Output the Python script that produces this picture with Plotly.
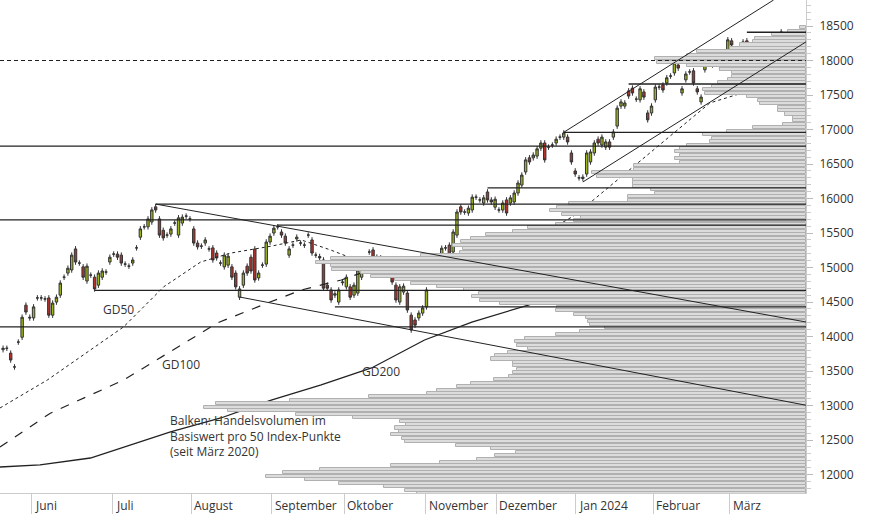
import plotly.graph_objects as go

# candles: open / close per trading day (index 0 = mid May 2023)
opens = [13810, 13830, 13760, 13560, 13920, 13990, 14455, 14280, 14270, 14560,
         14560, 14545, 14560, 14310, 14500, 14600, 14860, 14920, 14965, 15270,
         15065, 15010, 14805, 14890, 14860, 14745, 14860, 14935, 15080, 15195,
         15195, 15180, 15050, 15020, 15065, 15285, 15440, 15590, 15590, 15660,
         15880, 15705, 15540, 15470, 15485, 15645, 15470, 15645, 15745, 15705,
         15560, 15355, 15310, 15355, 15270, 15285, 15210, 15065, 15010, 15035,
         15010, 14920, 14570, 14745, 15020, 15150, 15270, 14850, 15035, 15050,
         15370, 15500, 15590, 15515, 15455, 15180, 15325, 15415, 15355, 15325,
         15470, 15400, 15180, 15160, 15110, 14745, 14675, 14600, 14500, 14780,
         14720, 14720, 14600, 14630, 14860, 15110, 15225, 15255, 15150, 15010,
         15050, 15010, 14965, 14745, 14500, 14645, 14630, 14310, 14240, 14270,
         14340, 14430, 14850, 14965, 15110, 15195, 15285, 15325, 15225, 15470,
         15880, 15805, 15790, 15834, 16020, 15980, 15935, 16095, 15980, 15875,
         15834, 15834, 15980, 15935, 15950, 16080, 16195, 16385, 16590, 16590,
         16615, 16730, 16805, 16745, 16775, 16805, 16890, 16890, 16890, 16660,
         16400, 16300, 16310, 16355, 16530, 16660, 16860, 16775, 16745, 16820,
         16890, 17050, 17340, 17340, 17560, 17600, 17440, 17430, 17545, 17240,
         17240, 17430, 17615, 17645, 17675, 17775, 17820, 17935, 17530, 17720,
         17835, 17850, 17590, 17400, 17865, 18050, 17965, 17965, 17890, 17980,
         18080, 18285, 18080, 18010, 18152, 18285, 17980, 18050, 18140, 18110,
         17905, 18010, 17890, 18080, 18415, 18285]
closes = [13830, 13830, 13660, 13560, 13920, 14280, 14355, 14270, 14430, 14560,
          14560, 14545, 14310, 14485, 14570, 14775, 14860, 14990, 15180, 15080,
          15065, 14860, 15020, 14890, 14690, 14920, 14950, 14935, 15150, 15195,
          15150, 15065, 15050, 15020, 15110, 15285, 15560, 15590, 15705, 15835,
          15835, 15470, 15430, 15470, 15560, 15645, 15720, 15730, 15745, 15705,
          15355, 15300, 15310, 15400, 15270, 15110, 15140, 15065, 15180, 15165,
          14860, 14720, 14690, 14920, 14920, 14950, 14820, 14920, 15035, 15370,
          15455, 15570, 15590, 15470, 15355, 15270, 15325, 15440, 15355, 15325,
          15470, 15210, 15180, 15140, 14700, 14700, 14530, 14620, 14675, 14790,
          14860, 14570, 14745, 14965, 15035, 15110, 15225, 15065, 15035, 15140,
          15040, 14920, 14790, 14530, 14720, 14730, 14385, 14095, 14165, 14340,
          14415, 14675, 14920, 15080, 15110, 15280, 15285, 15180, 15515, 15805,
          15805, 15805, 15860, 16020, 16020, 15980, 16010, 15980, 15950, 15990,
          15834, 15935, 15790, 16010, 16080, 16225, 16340, 16560, 16530, 16630,
          16720, 16805, 16560, 16745, 16775, 16860, 16890, 16950, 16820, 16530,
          16355, 16300, 16290, 16660, 16675, 16805, 16805, 16890, 16820, 16745,
          16965, 17310, 17400, 17385, 17485, 17530, 17440, 17590, 17470, 17140,
          17340, 17615, 17615, 17573, 17750, 17775, 17965, 17890, 17590, 17805,
          17835, 17675, 17545, 17470, 18010, 17965, 17935, 17965, 17890, 18040,
          18300, 18225, 17905, 18080, 18270, 18020, 17980, 18195, 18065, 18020,
          17820, 18010, 18020, 18225, 18325, 18325]
wick = 40

# moving averages (index, value)
gd50_x = [-0.8, 11.6, 31.6, 42.1, 51.8, 59.7, 70.3, 78.2, 86.1, 94, 104.5, 117.6, 128.2, 138.7, 150, 164.2, 185.3, 203.2, 205.3]
gd50_y = [12965, 13370, 14140, 14720, 15080, 15210, 15310, 15400, 15250, 15080, 14965, 14965, 15080, 15400, 15760, 16415, 17385, 17690, 17720]
gd100_x = [-0.8, 12.4, 31.6, 43.2, 56.3, 69.5, 78.2, 88.7, 100, 113.2, 130.8, 143.9, 157.1, 167.6, 185.3, 205.3]
gd100_y = [12400, 12890, 13370, 13760, 14200, 14490, 14675, 14820, 15040, 15080, 15210, 15330, 15620, 15910, 16415, 16850]
gd200_x = [-0.8, 9.7, 22.9, 33.4, 43.9, 57.1, 70.3, 83.4, 96.6, 110.5, 122.9, 137.9, 157.1, 172.9, 192.1, 205.3]
gd200_y = [12110, 12140, 12240, 12430, 12620, 12820, 13080, 13300, 13545, 13950, 14210, 14460, 14890, 15255, 15690, 15950]

# trend lines: (x0, y0, x1, y1)
trends = [(147, 16960, 202, 18877), (152, 16240, 210.5, 18270),
          (40, 15920, 210.5, 14211), (62, 14573, 210.5, 13005)]

# horizontal support / resistance lines
hline_levels = [18410, 17660, 16960, 16760, 16155, 15920, 15690, 15615, 14670, 14430, 14140]
hline_starts = [195, 164, 147, -0.8, 127, 40, -0.8, 72, 24, 87, -0.8]
dotted_level = 18000

# volume profile, one bar per 50 index points from 11700 upward
vol_start = 11700
volumes = [389, 401, 422, 467, 501, 540, 523, 486, 415, 366, 329, 311, 290, 315, 350, 401,
           404, 415, 407, 411, 400, 406, 453, 510, 578, 602, 590, 516, 437, 379, 369, 349,
           335, 312, 297, 293, 289, 293, 293, 315, 311, 298, 278, 289, 291, 281, 250, 226,
           201, 216, 218, 220, 232, 250, 249, 306, 326, 334, 327, 342, 369, 395, 411, 435,
           445, 474, 475, 490, 475, 385, 346, 343, 353, 345, 335, 320, 293, 278, 250, 232,
           225, 244, 256, 249, 237, 178, 178, 151, 155, 173, 173, 173, 209, 214, 172, 172,
           126, 131, 126, 131, 126, 119, 96, 94, 103, 79, 53, 23, 13, 13, 21, 28,
           28, 46, 48, 59, 101, 103, 94, 88, 78, 74, 74, 86, 119, 149, 151, 119,
           109, 76, 66, 53, 51, 34, 18, 6]

months = ["Juni", "Juli", "August", "September", "Oktober", "November",
          "Dezember", "Jan 2024", "Februar", "März"]
month_pos = [7.5, 28.7, 49.3, 70.5, 89.4, 110.8, 129.3, 150.2, 170.5, 190.5]

X_END = 210.5
idx = list(range(len(opens)))
highs = [max(o, c) + wick for o, c in zip(opens, closes)]
lows = [min(o, c) - wick for o, c in zip(opens, closes)]
levels = [vol_start + 25 + 50 * i for i in range(len(volumes))]

fig = go.Figure()
fig.add_trace(go.Bar(y=levels, x=volumes, orientation="h", width=44, xaxis="x2",
                     marker=dict(color="#dcdcdc", line=dict(color="#b0b0b0", width=1)),
                     showlegend=False, hoverinfo="skip"))

for x0, lev in zip(hline_starts, hline_levels):
    fig.add_shape(type="line", x0=x0, x1=X_END, y0=lev, y1=lev, line=dict(color="#222", width=1.3))
fig.add_shape(type="line", x0=-0.8, x1=X_END, y0=dotted_level, y1=dotted_level,
              line=dict(color="#222", width=1.2, dash="4px,3px"))
for x0, y0, x1, y1 in trends:
    fig.add_shape(type="line", x0=x0, y0=y0, x1=x1, y1=y1, line=dict(color="#222", width=1))

fig.add_trace(go.Scatter(x=gd50_x, y=gd50_y, mode="lines", line=dict(color="#222", width=1, dash="dot"),
                         showlegend=False))
fig.add_trace(go.Scatter(x=gd100_x, y=gd100_y, mode="lines", line=dict(color="#222", width=1.2, dash="dash"),
                         showlegend=False))
fig.add_trace(go.Scatter(x=gd200_x, y=gd200_y, mode="lines", line=dict(color="#222", width=1.3),
                         showlegend=False))

fig.add_trace(go.Candlestick(x=idx, open=opens, high=highs, low=lows, close=closes, whiskerwidth=0,
                             increasing=dict(fillcolor="#9db31a", line=dict(color="#333", width=1)),
                             decreasing=dict(fillcolor="#b5322a", line=dict(color="#333", width=1)),
                             showlegend=False))

for txt, x, y in [("GD50", 30.3, 14385), ("GD100", 46.6, 13590), ("GD200", 99.2, 13490)]:
    fig.add_annotation(x=x, y=y, text=txt, showarrow=False, font=dict(size=12, color="#333"))
fig.add_annotation(x=43.2, y=12930, xanchor="left", yanchor="top", align="left", showarrow=False,
                   text="Balken: Handelsvolumen im<br>Basiswert pro 50 Index-Punkte<br>(seit März 2020)",
                   font=dict(size=12, color="#333"))
for m, p in zip(months, month_pos):
    fig.add_annotation(x=p, y=0, yref="paper", yanchor="top", xanchor="left", xshift=1, yshift=-2,
                       text=m, showarrow=False, font=dict(size=12, color="#333"))

fig.update_layout(
    width=874, height=515, margin=dict(l=0, r=68, t=0, b=22, autoexpand=False),
    plot_bgcolor="white", paper_bgcolor="white", bargap=0, boxgap=0.1,
    font=dict(family="Open Sans, DejaVu Sans, sans-serif", size=12, color="#333"),
    xaxis=dict(range=[-0.8, X_END], tickvals=month_pos, ticktext=[""] * len(month_pos),
               ticks="outside", ticklen=20, tickcolor="#ccc", showline=True, linecolor="#ccc",
               showgrid=False, zeroline=False, rangeslider=dict(visible=False)),
    xaxis2=dict(overlaying="x", range=[806, 0], visible=False),
    yaxis=dict(side="right", range=[11733, 18877], tickvals=list(range(12000, 18501, 500)),
               tickformat="d", ticks="outside", ticklen=6, tickcolor="#bbb", showline=True,
               linecolor="#ccc", showgrid=False, zeroline=False, ticklabelstandoff=4,
               minor=dict(tickvals=list(range(11800, 18801, 100)), ticks="outside", ticklen=4, tickcolor="#ccc")),
)

fig.write_html("out.html", config=dict(displayModeBar=False),
               post_script="document.body.style.margin='0';document.body.style.overflow='hidden';")
